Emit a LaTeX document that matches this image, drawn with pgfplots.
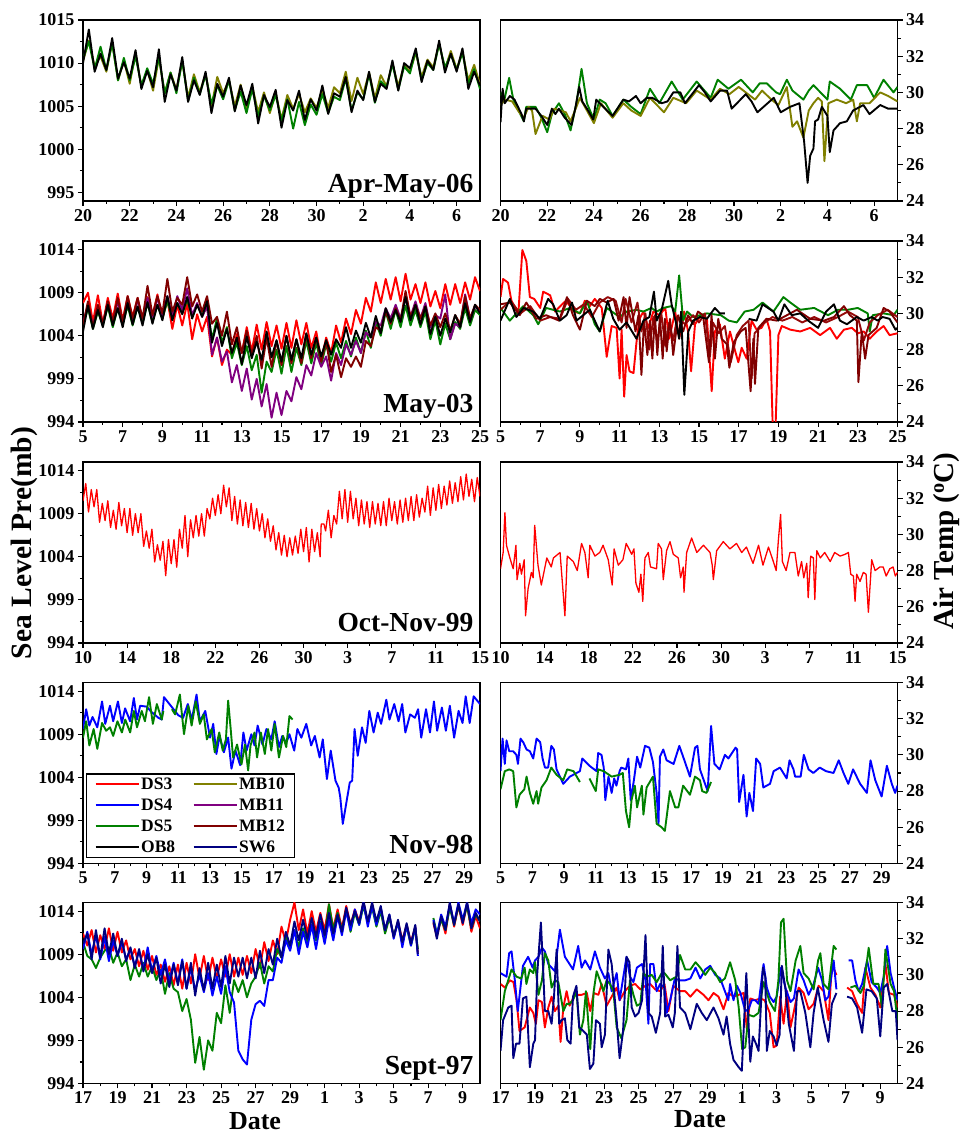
\documentclass[border=0pt]{standalone}
\usepackage{fontspec}
\setmainfont{Liberation Serif}
\usepackage{pgfplots}
\pgfplotsset{compat=1.18}
\usepackage{pgfplotstable}
\definecolor{cDSthree}{RGB}{255,0,0}
\definecolor{cDSfour}{RGB}{0,0,255}
\definecolor{cDSfive}{RGB}{0,128,0}
\definecolor{cOB}{RGB}{0,0,0}
\definecolor{cMBten}{RGB}{128,128,0}
\definecolor{cMBeleven}{RGB}{128,0,128}
\definecolor{cMBtwelve}{RGB}{128,0,0}
\definecolor{cMBb}{RGB}{150,10,10}
\definecolor{cSW}{RGB}{0,0,128}
\tikzset{lab/.style={anchor=base east, font=\bfseries\fontsize{27.5}{27.5}\selectfont}}
\pgfplotsset{
 panel/.style={scale only axis, width=397pt, height=181pt, tick align=outside, minor tick num=1,
  major tick length=5pt, minor tick length=3pt,
  major tick style={line width=1.1pt, black}, minor tick style={line width=1.1pt, black},
  axis line style={line width=1.2pt},
  ticklabel style={font=\bfseries\fontsize{18}{18}\selectfont},
  xtick pos=left, unbounded coords=jump,
  every axis plot/.append style={line width=1.9pt, line join=round, mark=none},
 },
 leftp/.style={panel, ytick pos=left, ymin=-6, ymax=15, ytick={-6,-1,4,9,14}, yticklabels={994,999,1004,1009,1014}},
 rightp/.style={panel, ytick pos=right, yticklabel pos=right, ymin=24, ymax=34, ytick={24,26,28,30,32,34}, yticklabels={24,26,28,30,32,34}},
}
\begin{document}
\pgfplotstableread{
x K O G
20.00 10.0 10.2 10.5
20.25 13.9 12.6 12.5
20.50 9.0 9.6 9.3
20.75 11.1 10.8 11.9
21.00 9.2 9.0 9.2
21.25 12.9 12.4 12.3
21.50 8.2 8.0 8.0
21.75 10.1 10.3 10.6
22.00 8.2 7.6 8.0
22.25 11.5 11.2 10.8
22.50 7.0 7.3 7.4
22.75 9.1 9.2 9.4
23.00 7.2 6.8 7.6
23.25 11.6 10.6 10.7
23.50 5.5 6.5 6.5
23.75 8.7 8.9 8.9
24.00 6.8 6.9 6.5
24.25 10.7 10.2 10.3
24.50 5.5 6.0 5.6
24.75 8.0 8.7 8.3
25.00 6.3 6.6 6.4
25.25 9.0 8.8 8.6
25.50 4.2 5.0 5.3
25.75 7.6 8.4 7.4
26.00 6.1 6.5 5.8
26.25 8.3 8.0 8.0
26.50 4.4 5.0 4.5
26.75 7.4 7.5 6.7
27.00 5.1 4.6 4.2
27.25 7.6 7.3 7.0
27.50 3.0 4.3 3.8
27.75 6.3 6.6 6.2
28.00 4.9 4.2 4.5
28.25 6.9 6.5 6.3
28.50 2.5 3.5 3.3
28.75 5.7 6.3 5.8
29.00 4.5 4.7 2.4
29.25 6.8 6.4 5.5
29.50 3.4 4.3 2.8
29.75 5.8 5.9 5.2
30.00 4.5 4.8 4.0
30.25 7.4 6.9 6.4
30.50 4.1 4.8 4.2
30.75 6.5 7.2 6.1
31.00 6.1 6.5 5.7
31.25 8.4 9.0 8.2
31.50 4.3 5.6 4.5
31.75 6.8 8.3 6.6
32.00 5.7 6.4 5.8
32.25 9.0 8.9 8.7
32.50 5.5 5.9 5.4
32.75 7.6 8.6 7.9
33.00 7.0 7.3 7.2
33.25 10.3 10.0 9.9
33.50 6.8 7.3 6.9
33.75 10.0 9.8 9.6
34.00 9.4 9.0 8.8
34.25 11.7 11.2 11.5
34.50 7.8 8.4 8.0
34.75 10.3 10.4 10.0
35.00 9.2 9.5 9.2
35.25 12.6 12.3 12.2
35.50 8.9 9.3 9.5
35.75 11.1 11.4 11.0
36.00 9.0 9.3 9.2
36.25 11.7 11.3 11.2
36.50 7.0 8.0 7.6
36.75 9.0 9.8 9.3
37.00 7.4 7.5 7.0
}\tabA
\pgfplotstableread{
x R G K P M
5.00 7.8 5.2 4.5 5.4 5.2
5.25 9.0 7.2 7.5 7.6 8.0
5.50 5.6 4.8 4.8 5.2 5.0
5.75 8.7 6.8 7.0 7.4 7.6
6.00 5.4 5.2 5.0 5.4 5.4
6.25 8.4 7.4 7.6 7.8 8.0
6.50 6.0 5.0 5.2 5.6 5.6
6.75 8.9 7.2 7.2 8.0 8.4
7.00 5.8 5.3 5.0 5.6 5.6
7.25 8.6 7.5 7.8 7.9 8.6
7.50 6.2 5.2 5.3 5.8 6.0
7.75 8.4 7.4 7.4 8.2 8.4
8.00 5.8 5.5 5.2 6.0 6.0
8.25 8.5 7.8 7.9 8.4 9.8
8.50 6.3 5.6 5.4 6.2 6.4
8.75 8.8 7.6 7.6 8.4 8.6
9.00 6.0 6.0 5.8 6.4 6.6
9.25 8.2 8.0 8.6 8.6 10.6
9.50 4.8 6.0 5.8 6.2 6.8
9.75 7.6 7.8 7.8 8.6 8.4
10.00 5.2 6.6 6.5 7.0 7.6
10.25 7.8 8.2 8.5 9.5 10.8
10.50 3.6 6.2 6.0 6.4 7.4
10.75 6.5 7.6 7.6 7.8 8.8
11.00 4.5 6.4 6.2 6.2 6.8
11.25 6.2 7.4 8.0 7.4 8.6
11.50 1.6 3.6 3.2 1.8 5.4
11.75 3.8 6.0 5.5 3.8 6.2
12.00 0.6 3.2 2.8 1.0 4.0
12.25 2.4 5.0 4.8 2.2 6.8
12.50 1.8 1.4 2.0 -1.4 3.0
12.75 4.2 3.2 3.8 0.6 5.0
13.00 2.0 0.6 0.7 -2.4 2.0
13.25 5.0 2.8 3.9 0.2 4.6
13.50 2.2 0.0 1.4 -3.4 1.8
13.75 5.3 1.8 3.3 -1.0 4.0
14.00 2.4 -2.6 1.2 -4.2 0.2
14.25 5.6 1.0 4.5 -1.6 3.8
14.50 2.8 -0.2 1.5 -5.5 0.4
14.75 5.2 2.4 3.5 -2.6 3.4
15.00 2.5 -0.4 1.0 -5.2 0.6
15.25 5.5 2.8 4.0 -2.4 4.0
15.50 2.6 -0.2 1.2 -3.6 0.8
15.75 5.8 2.6 3.6 -0.8 3.6
16.00 3.0 0.6 1.4 -2.2 0.8
16.25 5.5 3.4 4.3 0.6 4.2
16.50 2.6 0.8 1.8 -0.6 1.4
16.75 4.5 3.2 3.8 2.0 3.8
17.00 1.2 0.6 1.6 0.4 1.0
17.25 3.8 3.0 3.5 1.6 3.4
17.50 2.0 1.0 1.8 -1.2 -0.2
17.75 5.2 3.2 3.6 2.0 1.8
18.00 3.2 1.4 2.6 0.6 -0.8
18.25 6.0 3.4 5.0 3.0 1.4
18.50 4.2 1.6 2.6 1.8 0.4
18.75 7.0 3.8 4.6 3.4 1.6
19.00 5.4 2.0 3.2 2.0 0.4
19.25 8.4 4.6 5.5 4.4 3.4
19.50 6.8 2.6 3.8 3.8 2.8
19.75 10.2 5.6 6.3 5.6 5.0
20.00 7.8 4.0 4.3 5.2 4.6
20.25 10.6 6.8 7.2 7.2 6.8
20.50 8.2 4.8 5.6 6.0 5.4
20.75 10.8 7.0 7.0 7.6 7.2
21.00 8.0 5.0 5.6 6.0 5.8
21.25 11.2 7.5 8.5 8.4 9.2
21.50 8.2 5.2 5.8 6.2 6.2
21.75 10.0 7.0 7.6 8.0 7.6
22.00 7.8 5.0 5.3 6.0 6.0
22.25 10.2 6.8 7.4 7.8 7.4
22.50 7.4 3.6 4.2 5.0 5.2
22.75 9.2 5.8 6.2 6.4 6.6
23.00 7.2 3.0 4.0 6.0 5.0
23.25 10.0 5.4 6.0 8.8 6.6
23.50 7.6 3.6 4.4 3.6 4.6
23.75 10.0 5.6 6.4 5.4 6.4
24.00 7.8 4.8 5.0 5.0 5.4
24.25 10.2 7.2 7.8 8.8 8.6
24.50 8.2 5.2 5.6 6.0 6.0
24.75 10.8 7.0 7.6 7.4 7.6
25.00 9.2 6.4 6.6 6.8 7.0
}\tabB
\pgfplotstableread{
x R B G N
17.00 11.4 9.6 10.4 10.2
17.25 10.0 11.6 8.8 11.4
17.50 11.8 9.0 8.4 8.4
17.75 9.2 11.2 7.4 11.8
18.00 11.2 8.4 8.6 8.6
18.25 9.6 11.0 9.4 12.0
18.50 12.0 8.2 9.8 9.0
18.75 9.4 10.6 8.0 11.4
19.00 11.6 8.8 9.2 8.8
19.25 9.2 10.4 7.6 10.8
19.50 10.6 8.4 8.4 8.2
19.75 8.4 9.6 6.0 9.8
20.00 9.6 7.6 7.8 7.4
20.25 7.6 9.4 6.4 9.6
20.50 9.4 7.2 8.0 7.0
20.75 7.2 9.8 6.4 9.0
21.00 8.8 7.0 7.6 6.8
21.25 6.6 8.8 6.0 8.6
21.50 7.8 6.6 7.2 5.6
21.75 5.8 8.4 4.4 7.8
22.00 7.6 5.8 6.8 5.2
22.25 5.4 8.0 5.0 7.8
22.50 7.8 5.6 4.6 5.4
22.75 5.0 8.4 2.4 8.2
23.00 8.0 5.0 3.8 5.0
23.25 5.6 7.4 1.4 8.0
23.50 9.0 4.8 -3.6 4.2
23.75 6.2 6.6 -0.6 7.4
24.00 8.8 4.6 -4.4 4.8
24.25 6.0 6.8 -1.0 8.0
24.50 8.6 4.2 -2.2 5.0
24.75 6.2 6.4 2.2 7.8
25.00 8.4 4.4 1.0 5.2
25.25 6.4 7.6 5.4 8.8
25.50 9.0 4.6 2.2 5.6
25.75 6.4 3.4 6.0 8.6
26.00 8.6 -2.2 4.6 6.4
26.25 6.6 -3.2 6.0 8.6
26.50 8.8 -3.8 4.0 6.2
26.75 6.8 1.4 5.6 8.6
27.00 9.6 3.2 6.4 6.2
27.25 7.4 3.6 8.0 9.4
27.50 10.4 3.0 5.6 6.8
27.75 8.2 6.0 7.6 9.6
28.00 10.6 6.0 7.0 7.8
28.25 9.0 8.6 9.6 10.8
28.50 12.2 8.0 8.6 8.6
28.75 10.4 10.6 11.0 11.6
29.00 13.0 9.4 9.6 10.0
29.25 15.0 11.8 11.8 12.8
29.50 11.8 9.0 9.8 10.6
29.75 14.2 11.6 12.0 13.0
30.00 11.4 9.8 10.2 10.8
30.25 14.0 12.4 12.4 13.2
30.50 11.6 9.6 10.6 11.0
30.75 13.8 12.6 12.8 13.6
31.00 11.8 10.2 10.8 11.2
31.25 14.8 13.0 14.8 13.8
31.50 12.0 10.6 11.8 11.4
31.75 14.2 13.4 13.8 13.6
32.00 12.0 11.2 11.8 11.6
32.25 14.6 14.0 14.2 14.4
32.50 12.4 11.8 11.6 12.4
32.75 14.2 14.2 13.8 14.0
33.00 12.8 12.4 12.4 12.6
33.25 15.0 15.0 14.6 15.2
33.50 12.6 12.2 12.6 12.8
33.75 14.8 14.6 14.4 15.0
34.00 12.6 12.4 12.2 12.8
34.25 14.2 14.4 14.0 14.6
34.50 11.6 11.8 11.4 11.8
34.75 13.4 13.6 13.2 13.6
35.00 11.0 10.8 11.2 11.0
35.25 12.8 12.8 12.6 13.0
35.50 10.6 9.8 10.2 10.4
35.75 12.4 12.4 12.2 12.6
36.00 10.4 10.0 10.0 10.2
36.25 12.2 12.2 12.0 12.4
36.40 9.2 8.8 9.6 9.0
36.80 nan nan nan nan
37.30 12.6 13.0 13.2 12.8
37.50 11.0 11.2 11.4 10.8
37.75 13.2 13.6 13.0 13.4
38.00 11.4 12.2 11.8 11.8
38.25 14.8 14.8 14.4 15.0
38.50 12.2 12.6 12.4 12.4
38.75 14.6 15.0 14.6 14.8
39.00 12.4 13.0 12.8 12.6
39.25 14.8 15.0 14.6 15.0
39.50 11.6 12.6 12.0 12.0
39.75 13.4 14.2 13.6 13.8
40.00 12.0 13.6 12.8 12.8
}\tabE
\begin{tikzpicture}
\useasboundingbox (0,0) rectangle (959pt,1134pt);
% ---------------- Row 1
\begin{axis}[leftp, at={(83pt,933pt)}, anchor=south west, xmin=20, xmax=37,
  ytick={-5,0,5,10,15}, yticklabels={995,1000,1005,1010,1015},
  xtick={20,22,...,36}, xticklabels={20,22,24,26,28,30,2,4,6}]
\addplot[cMBten] table[x=x,y=O] {\tabA};
\addplot[cDSfive] table[x=x,y=G] {\tabA};
\addplot[cOB] table[x=x,y=K] {\tabA};
\node[lab] at (rel axis cs:1,0) [xshift=-3pt, yshift=8pt] {Apr-May-06};
\end{axis}
\begin{axis}[rightp, at={(500.5pt,933pt)}, anchor=south west, xmin=20, xmax=37,
  xtick={20,22,...,36}, xticklabels={20,22,24,26,28,30,2,4,6}]
\addplot[cDSfive] coordinates {(20,30.0)(20.15,29.5)(20.37,30.8)(20.55,29.6)(21.0,28.4)(21.1,29.2)(21.5,29.2)(21.75,28.6)(22.0,27.8)(22.2,28.8)(22.5,29.4)(22.75,28.8)(23.0,27.9)(23.25,29.4)(23.47,31.3)(23.7,29.4)(24.0,28.5)(24.25,29.6)(24.5,29.4)(24.8,28.7)(25.26,29.6)(25.6,29.2)(26.0,28.8)(26.4,30.2)(26.8,29.4)(27.33,30.6)(27.8,29.6)(28.4,30.6)(29.0,29.7)(29.3,30.7)(29.76,30.2)(30.3,30.7)(30.8,30.0)(31.1,30.5)(31.4,30.5)(31.8,30.0)(31.97,29.9)(32.26,30.7)(32.5,30.1)(32.97,29.6)(33.2,30.1)(33.4,30.4)(34.0,29.6)(34.1,30.6)(34.54,30.2)(35.0,29.6)(35.26,30.4)(35.7,30.4)(36.0,29.7)(36.4,30.7)(36.83,30.0)(37,30.3)};
\addplot[cMBten] coordinates {(20,29.3)(20.2,29.6)(20.5,29.5)(20.8,28.9)(21.0,28.6)(21.2,29.2)(21.35,29.0)(21.5,27.7)(21.8,28.7)(22.1,28.5)(22.3,29.1)(22.55,29.0)(22.8,28.9)(23.0,28.4)(23.25,29.2)(23.4,29.7)(23.7,29.0)(24.0,28.3)(24.3,29.4)(24.8,28.6)(25.26,29.4)(25.6,29.0)(26.0,28.7)(26.4,29.7)(27.0,28.9)(27.4,29.7)(27.95,29.4)(28.4,30.1)(29.0,29.6)(29.4,30.2)(29.8,29.9)(30.2,30.3)(30.5,30.0)(30.9,29.6)(31.2,30.1)(31.6,29.6)(31.9,29.3)(32.26,30.3)(32.5,28.1)(32.7,28.4)(32.97,27.5)(33.2,29.0)(33.4,29.4)(33.6,29.7)(33.76,29.5)(33.87,26.2)(34.04,29.4)(34.4,29.6)(34.8,29.4)(35.1,29.6)(35.26,28.4)(35.4,29.4)(35.8,29.4)(36.26,30.0)(36.6,29.8)(37,29.5)};
\addplot[cOB] coordinates {(20,28.35)(20.09,30.2)(20.18,29.4)(20.4,29.8)(20.6,29.6)(20.9,28.8)(21.0,28.4)(21.1,29.1)(21.5,29.1)(21.75,28.7)(22.0,28.2)(22.2,29.1)(22.35,28.8)(22.5,29.1)(22.75,28.6)(23.04,28.2)(23.2,29.1)(23.37,30.3)(23.5,29.5)(23.75,29.0)(23.97,28.5)(24.1,29.6)(24.4,29.2)(24.8,28.7)(25.26,29.6)(25.5,29.5)(25.8,29.8)(26.0,29.4)(26.26,29.7)(26.5,29.7)(26.9,29.4)(27.15,29.5)(27.4,30.0)(27.7,30.0)(27.9,29.4)(28.2,29.9)(28.5,30.4)(28.75,30.0)(29.0,29.5)(29.4,30.1)(29.7,30.1)(29.9,29.1)(30.2,29.5)(30.5,29.9)(30.75,29.5)(31.0,28.9)(31.35,29.3)(31.7,29.7)(32.0,28.9)(32.4,29.2)(32.8,29.4)(33.0,27.3)(33.15,25.0)(33.26,26.5)(33.4,26.9)(33.47,28.4)(33.6,28.5)(33.76,29.2)(34.0,28.7)(34.1,26.7)(34.26,27.9)(34.54,28.3)(34.83,28.4)(35.1,29.0)(35.54,29.3)(35.8,28.8)(36.26,29.3)(36.6,29.1)(37,29.1)};
\end{axis}
% ---------------- Row 2
\begin{axis}[leftp, at={(83pt,712pt)}, anchor=south west, xmin=5, xmax=25,
  xtick={5,7,...,25}, xticklabels={5,7,9,11,13,15,17,19,21,23,25}]
\addplot[cDSthree] table[x=x,y=R] {\tabB};
\addplot[cDSfive] table[x=x,y=G] {\tabB};
\addplot[cMBeleven] table[x=x,y=P] {\tabB};
\addplot[cMBtwelve] table[x=x,y=M] {\tabB};
\addplot[cOB] table[x=x,y=K] {\tabB};
\node[lab] at (rel axis cs:1,0) [xshift=-3pt, yshift=9pt] {May-03};
\end{axis}
\begin{axis}[rightp, at={(500.5pt,712pt)}, anchor=south west, xmin=5, xmax=25,
  xtick={5,7,...,25}, xticklabels={5,7,9,11,13,15,17,19,21,23,25}]
\addplot[cDSthree] coordinates {(5.0,30.9)(5.13,31.9)(5.38,31.7)(5.55,30.7)(5.9,30.0)(6.1,33.5)(6.3,32.9)(6.48,30.9)(6.7,30.8)(7.0,30.3)(7.15,31.2)(7.5,31.0)(7.75,30.1)(8.1,30.5)(8.3,30.7)(8.7,30.1)(9.0,30.0)(9.25,30.7)(9.5,30.4)(9.75,30.8)(10.1,30.3)(10.35,27.6)(10.6,29.3)(10.85,29.2)(11.0,26.4)(11.1,29.1)(11.23,25.4)(11.35,27.7)(11.5,26.8)(11.7,26.7)(11.85,28.4)(12.0,29.7)(12.2,30.1)(12.45,29.2)(12.7,30.1)(13.0,29.9)(13.3,30.3)(13.5,28.6)(13.8,30.1)(14.0,28.6)(14.25,30.1)(14.45,29.0)(14.6,26.8)(14.8,29.4)(15.1,29.9)(15.4,29.7)(15.64,25.7)(15.8,29.0)(16.05,29.4)(16.3,27.5)(16.56,29.0)(16.8,28.0)(16.98,27.3)(17.15,28.1)(17.4,27.5)(17.65,29.6)(17.9,29.1)(18.15,29.2)(18.4,29.7)(18.58,29.0)(18.72,23.5)(18.85,23.5)(19.0,28.8)(19.17,29.3)(19.6,29.1)(20.1,29.0)(20.6,29.2)(21.1,28.8)(21.6,29.2)(21.94,28.6)(22.3,29.1)(22.7,29.2)(23.0,28.9)(23.3,29.0)(23.6,28.6)(23.95,29.0)(24.3,29.3)(24.6,28.8)(25,28.9)};
\addplot[cDSfive] coordinates {(5.0,30.3)(5.47,29.6)(5.8,30.0)(6.15,30.4)(6.65,29.9)(6.9,29.4)(7.3,30.3)(8.0,30.1)(8.5,30.3)(9.0,30.0)(9.35,30.7)(9.75,29.4)(10.0,29.0)(10.35,30.3)(11.0,29.8)(11.35,30.1)(11.85,30.2)(12.2,30.1)(12.6,30.3)(12.87,30.1)(13.2,30.3)(13.6,30.4)(13.8,30.1)(14.0,32.1)(14.2,29.6)(14.4,30.1)(14.7,29.8)(15.4,30.0)(16.1,29.9)(16.5,29.6)(16.9,29.5)(17.3,30.1)(17.75,30.2)(18.2,30.6)(18.75,30.1)(19.25,30.9)(19.6,30.6)(20.1,30.2)(20.8,30.3)(21.5,29.9)(22.0,30.2)(22.5,30.2)(23.0,30.3)(23.5,30.0)(23.6,29.0)(23.75,29.9)(24.3,30.0)(24.8,29.9)(25,30.2)};
\addplot[cMBb] coordinates {(5,30.2)(5.5,30.7)(6,30.0)(6.5,30.4)(7,29.6)(7.5,29.8)(8,29.7)(8.4,30.8)(8.8,30.2)(9.2,30.5)(9.6,29.8)(10.0,30.6)(10.4,30.9)(10.8,30.7)(11.1,29.5)(11.3,30.8)(11.6,29.5)(11.9,30.6)(12.1,29.0)(12.3,30.0)(12.5,28.0)(12.7,29.8)(12.9,28.4)(13.1,30.0)(13.3,28.2)(13.5,29.5)(13.7,28.5)(13.9,29.8)(14.3,29.4)(14.7,29.9)(15.0,29.5)(15.3,30.0)(15.55,27.6)(15.7,29.5)(16.0,28.9)(16.3,29.3)(16.6,27.3)(16.9,28.8)(17.2,29.3)(17.5,29.6)(17.65,26.4)(17.8,28.9)(18.2,29.4)(18.7,29.8)(19.2,29.6)(19.7,29.8)(20.2,29.5)(20.8,29.8)(21.4,29.5)(22.0,29.8)(22.5,30.1)(23.0,29.8)(23.3,28.5)(23.6,29.5)(24.0,29.9)(24.5,30.2)(25,29.8)};
\addplot[cMBtwelve] coordinates {(5.0,30.5)(5.47,30.6)(5.97,29.9)(6.3,30.6)(6.8,29.7)(7.3,29.9)(7.95,29.6)(8.35,30.9)(8.65,29.9)(9.0,29.1)(9.35,30.7)(9.75,30.4)(10.0,30.8)(10.35,30.6)(10.7,30.8)(10.95,29.6)(11.2,30.9)(11.35,29.2)(11.5,30.9)(11.8,29.0)(11.95,29.9)(12.1,26.6)(12.23,29.6)(12.4,27.7)(12.53,29.6)(12.65,27.5)(12.78,29.9)(12.9,27.7)(13.03,29.8)(13.17,27.5)(13.28,29.7)(13.37,27.9)(13.54,29.7)(13.7,27.7)(13.95,29.9)(14.2,29.0)(14.45,29.9)(14.7,29.4)(14.95,30.1)(15.2,29.9)(15.5,27.3)(15.63,29.9)(15.8,27.5)(15.97,29.7)(16.14,28.6)(16.4,28.3)(16.53,27.0)(16.75,28.4)(17.1,29.0)(17.35,29.2)(17.6,25.7)(17.74,28.6)(17.82,26.1)(17.99,29.2)(18.4,29.7)(18.92,29.6)(19.43,29.9)(19.93,30.2)(20.6,29.7)(21.3,29.6)(21.8,29.8)(22.3,30.4)(22.6,29.9)(22.95,29.6)(23.03,26.2)(23.2,29.0)(23.37,27.5)(23.54,28.8)(23.95,29.2)(24.3,30.3)(24.6,30.1)(25,29.5)};
\addplot[cOB] coordinates {(5.0,29.6)(5.47,30.8)(5.8,29.8)(6.15,30.3)(6.65,30.1)(6.99,29.7)(7.4,30.8)(7.65,30.5)(7.99,29.6)(8.33,29.9)(8.6,30.6)(8.83,29.6)(9.5,30.2)(10.0,29.0)(10.4,30.7)(10.68,29.7)(11.0,29.1)(11.35,29.5)(11.85,28.6)(12.2,29.6)(12.5,29.8)(12.73,31.2)(12.87,29.6)(13.12,30.2)(13.45,31.8)(13.62,30.5)(13.9,29.2)(14.0,28.6)(14.1,30.1)(14.26,25.5)(14.46,29.0)(14.7,29.6)(15.05,29.8)(15.4,29.7)(15.8,30.3)(16.05,30.0)(16.3,30.0)(16.9,nan)(17.5,29.7)(17.9,29.6)(18.2,30.5)(18.75,30.1)(19.0,29.6)(19.3,30.5)(19.67,29.9)(20.1,30.0)(20.5,29.6)(21.0,29.2)(21.4,30.1)(21.8,30.5)(22.1,29.6)(22.45,29.4)(22.95,29.8)(23.3,29.6)(23.7,29.8)(24.0,29.6)(24.25,29.8)(24.6,29.7)(24.9,29.1)(25,29.2)};
\end{axis}
% ---------------- Row 3
\begin{axis}[leftp, at={(83pt,491pt)}, anchor=south west, xmin=10, xmax=46,
  xtick={10,14,...,46}, xticklabels={10,14,18,22,26,30,3,7,11,15}]
\addplot[cDSthree, line width=1.3pt] coordinates {(10.00,10.5)(10.25,12.5)(10.50,9.2)(10.75,11.8)(11.00,9.8)(11.25,11.8)(11.50,8.0)(11.75,10.2)(12.00,8.2)(12.25,10.5)(12.50,7.4)(12.75,9.4)(13.00,7.2)(13.25,10.3)(13.50,7.6)(13.75,9.6)(14.00,6.8)(14.25,9.6)(14.50,6.5)(14.75,9.0)(15.00,6.8)(15.25,9.0)(15.50,5.2)(15.75,7.0)(16.00,5.0)(16.25,7.2)(16.50,3.4)(16.75,5.4)(17.00,3.6)(17.25,5.8)(17.50,1.8)(17.75,6.0)(18.00,3.2)(18.25,6.0)(18.50,2.8)(18.75,7.2)(19.00,5.0)(19.25,8.8)(19.50,4.0)(19.75,8.3)(20.00,6.2)(20.25,8.8)(20.50,6.4)(20.75,9.0)(21.00,6.4)(21.25,9.6)(21.50,8.4)(21.75,10.8)(22.00,8.8)(22.25,11.2)(22.50,9.0)(22.75,12.3)(23.00,9.8)(23.25,12.0)(23.50,8.2)(23.75,11.0)(24.00,7.8)(24.25,10.6)(24.50,7.6)(24.75,10.3)(25.00,7.4)(25.25,10.2)(25.50,7.2)(25.75,9.6)(26.00,7.0)(26.25,9.0)(26.50,6.2)(26.75,8.4)(27.00,5.8)(27.25,7.6)(27.50,4.8)(27.75,6.8)(28.00,4.2)(28.25,6.5)(28.50,4.0)(28.75,6.2)(29.00,4.2)(29.25,6.4)(29.50,4.4)(29.75,7.2)(30.00,4.6)(30.25,7.4)(30.50,3.4)(30.75,7.2)(31.00,4.6)(31.25,6.8)(31.50,4.0)(31.60,7.8)(31.85,7.8)(32.00,7.0)(32.25,9.4)(32.50,6.2)(32.75,8.8)(33.00,7.8)(33.25,11.6)(33.50,8.4)(33.75,11.8)(34.00,8.0)(34.25,11.6)(34.50,8.4)(34.75,10.8)(35.00,7.6)(35.25,10.6)(35.50,7.8)(35.75,10.4)(36.00,7.4)(36.25,10.4)(36.50,7.8)(36.75,10.2)(37.00,7.6)(37.25,10.4)(37.50,7.6)(37.75,10.8)(38.00,8.2)(38.25,10.4)(38.50,7.8)(38.75,10.6)(39.00,8.0)(39.25,10.8)(39.50,8.2)(39.75,11.0)(40.00,8.2)(40.25,11.2)(40.50,8.6)(40.75,10.8)(41.00,9.2)(41.25,12.2)(41.50,8.8)(41.75,12.0)(42.00,9.4)(42.25,12.4)(42.50,9.6)(42.75,12.2)(43.00,10.0)(43.25,12.8)(43.50,10.2)(43.75,12.6)(44.00,10.4)(44.25,13.3)(44.50,10.6)(44.75,13.6)(45.00,11.0)(45.25,13.0)(45.50,10.4)(45.75,13.2)(46.00,11.0)};
\node[lab] at (rel axis cs:1,0) [xshift=-3pt, yshift=11pt] {Oct-Nov-99};
\end{axis}
\begin{axis}[rightp, at={(500.5pt,491pt)}, anchor=south west, xmin=10, xmax=46,
  xtick={10,14,...,46}, xticklabels={10,14,18,22,26,30,3,7,11,15}]
\addplot[cDSthree, line width=1.3pt] coordinates {(10.0,28.1)(10.24,29.0)(10.4,31.2)(10.54,29.4)(10.85,28.7)(11.15,28.1)(11.4,29.4)(11.5,27.5)(11.75,28.4)(11.9,27.8)(12.15,28.6)(12.27,25.5)(12.5,27.0)(12.8,27.9)(12.96,27.6)(13.1,30.5)(13.4,28.3)(13.7,27.2)(14.2,28.7)(14.6,28.2)(14.8,28.7)(15.4,29.0)(15.84,25.5)(16.05,28.8)(16.6,28.5)(16.96,28.0)(17.35,29.5)(17.65,29.0)(17.95,27.6)(18.1,29.4)(18.56,28.8)(19.0,29.0)(19.3,29.4)(19.77,28.6)(20.13,27.2)(20.3,29.2)(20.68,28.3)(21.1,28.6)(21.4,29.5)(21.9,28.9)(22.1,29.2)(22.28,27.3)(22.55,26.8)(22.73,27.8)(22.9,26.3)(23.1,28.7)(23.4,29.0)(23.6,28.2)(24.15,28.1)(24.3,29.5)(24.6,29.2)(24.76,27.5)(25.06,29.1)(25.37,29.6)(25.67,28.9)(26.12,28.7)(26.33,27.6)(26.57,28.2)(26.64,26.8)(26.88,29.0)(27.33,29.8)(27.8,29.0)(28.4,29.4)(29.0,29.0)(29.2,28.3)(29.3,27.5)(29.6,29.1)(30.2,29.6)(30.8,29.2)(31.4,29.5)(31.87,29.0)(32.3,29.3)(32.9,28.4)(33.4,29.4)(33.8,28.3)(34.3,29.3)(34.74,28.5)(35.0,28.0)(35.2,29.7)(35.4,31.1)(35.56,28.5)(35.9,28.0)(36.25,29.0)(36.7,29.0)(37.0,27.7)(37.3,28.5)(37.5,27.6)(37.77,28.4)(37.9,26.5)(38.13,28.8)(38.37,28.7)(38.5,26.4)(38.68,29.1)(39.0,28.7)(39.4,29.0)(39.9,28.5)(40.3,29.0)(40.8,28.8)(41.25,28.9)(41.55,29.0)(41.76,27.8)(42.0,27.7)(42.15,26.3)(42.3,27.8)(42.6,27.4)(42.9,27.9)(43.15,27.8)(43.36,25.7)(43.66,28.6)(43.97,28.0)(44.4,28.2)(44.7,28.2)(44.97,27.7)(45.3,28.1)(45.6,28.2)(45.8,27.7)(46.0,27.9)};
\end{axis}
% ---------------- Row 4
\begin{axis}[leftp, at={(83pt,270.5pt)}, anchor=south west, xmin=5, xmax=30,
  xtick={5,7,...,29}, xticklabels={5,7,9,11,13,15,17,19,21,23,25,27,29},
  legend columns=2, legend cell align=left,
  legend image code/.code={\draw[#1, line width=1.9pt] (0pt,0pt) -- (43pt,0pt);},
  legend style={at={(0.008,0.03)}, anchor=south west, draw=black, line width=1.2pt,
    font=\bfseries\fontsize{17.5}{17.5}\selectfont, row sep=6.5pt, inner xsep=8pt, inner ysep=3pt,
    nodes={inner sep=1.5pt, text height=11.5pt, text depth=0pt},
    /tikz/every even column/.append style={column sep=16pt}}]
\addlegendimage{cDSthree}\addlegendentry{DS3}
\addlegendimage{cMBten}\addlegendentry{MB10}
\addlegendimage{cDSfour}\addlegendentry{DS4}
\addlegendimage{cMBeleven}\addlegendentry{MB11}
\addlegendimage{cDSfive}\addlegendentry{DS5}
\addlegendimage{cMBtwelve}\addlegendentry{MB12}
\addlegendimage{cOB}\addlegendentry{OB8}
\addlegendimage{cSW}\addlegendentry{SW6}
\addplot[cDSfour, forget plot] coordinates {(5.0,9.6)(5.2,11.9)(5.4,10.0)(5.6,11.0)(5.9,9.8)(6.2,12.8)(6.4,10.2)(6.7,12.3)(6.9,10.5)(7.2,12.8)(7.45,10.3)(7.65,12.0)(7.97,10.5)(8.2,13.2)(8.4,10.7)(8.6,12.3)(9.0,12.2)(9.3,11.6)(9.75,10.9)(9.96,10.7)(10.1,13.3)(10.7,11.9)(11.0,11.2)(11.3,10.9)(11.6,12.5)(11.85,10.7)(12.15,13.6)(12.36,10.5)(12.7,11.7)(13.0,8.6)(13.2,10.2)(13.4,6.7)(13.6,8.8)(13.87,6.9)(14.14,8.6)(14.35,5.0)(14.6,7.1)(14.9,5.4)(15.1,9.2)(15.3,7.1)(15.6,9.0)(15.8,7.7)(16.0,10.0)(16.3,7.8)(16.55,9.6)(16.86,8.4)(17.07,10.5)(17.34,7.5)(17.55,8.8)(17.8,8.0)(18.0,9.0)(18.3,7.1)(18.5,9.6)(18.75,8.6)(19.06,10.2)(19.37,7.7)(19.6,8.8)(19.9,6.3)(20.1,8.4)(20.36,3.8)(20.6,7.1)(20.9,3.6)(21.1,2.8)(21.2,1.7)(21.36,-1.4)(21.57,0.9)(21.8,3.4)(21.95,3.6)(22.1,9.6)(22.3,6.5)(22.57,9.8)(22.8,8.0)(23.03,11.7)(23.3,9.2)(23.56,11.5)(23.77,10.2)(24.1,13.0)(24.3,10.7)(24.6,12.5)(24.87,10.5)(25.1,12.5)(25.3,9.2)(25.6,11.3)(25.9,10.9)(26.1,11.9)(26.3,8.6)(26.6,11.9)(26.85,9.2)(27.1,12.8)(27.3,9.4)(27.6,12.1)(27.85,9.4)(28.1,12.3)(28.37,8.6)(28.65,11.7)(28.9,10.3)(29.1,13.4)(29.35,10.3)(29.6,13.4)(30.0,12.5)};
\addplot[cDSfive, forget plot] coordinates {(5.0,8.6)(5.2,10.5)(5.4,7.7)(5.67,9.6)(5.9,7.3)(6.2,10.3)(6.46,9.4)(6.7,9.8)(6.9,8.8)(7.17,10.5)(7.45,9.2)(7.66,10.7)(7.97,9.2)(8.2,11.7)(8.4,9.8)(8.7,11.7)(8.9,10.5)(9.16,13.3)(9.4,10.2)(9.65,12.5)(9.96,10.7)(10.06,11.7)(10.3,nan)(10.6,11.9)(10.8,11.3)(11.1,13.6)(11.36,9.0)(11.63,12.3)(11.84,10.0)(12.1,12.8)(12.36,10.2)(12.6,11.3)(12.8,8.4)(13.1,9.6)(13.3,6.9)(13.58,9.2)(13.8,7.1)(14.0,8.4)(14.14,12.9)(14.3,9.6)(14.45,6.3)(14.7,7.8)(14.98,5.5)(15.2,7.8)(15.4,4.8)(15.55,7.7)(15.8,9.2)(15.96,6.3)(16.2,9.2)(16.45,6.7)(16.65,9.6)(16.86,7.1)(17.07,10.2)(17.34,6.3)(17.6,8.8)(17.8,7.5)(18.0,11.1)(18.2,10.7)};
\node[lab] at (rel axis cs:1,0) [xshift=-3pt, yshift=10pt] {Nov-98};
\end{axis}
\begin{axis}[rightp, at={(500.5pt,270.5pt)}, anchor=south west, xmin=5, xmax=30,
  xtick={5,7,...,29}, xticklabels={5,7,9,11,13,15,17,19,21,23,25,27,29}]
\addplot[cDSfour] coordinates {(5.0,29.1)(5.13,30.9)(5.27,29.5)(5.38,30.8)(5.55,30.2)(5.8,30.2)(6.0,30.0)(6.1,29.5)(6.26,30.9)(6.43,30.7)(6.64,30.3)(6.85,30.2)(7.06,29.8)(7.27,30.9)(7.5,30.7)(7.65,29.8)(7.8,29.3)(8.0,29.3)(8.2,30.5)(8.36,30.3)(8.53,29.2)(8.95,28.4)(9.37,28.8)(10.0,29.1)(10.15,29.8)(10.6,29.4)(11.05,29.1)(11.15,30.1)(11.36,30.0)(11.5,29.3)(11.6,27.5)(11.8,28.8)(12.0,27.9)(12.16,28.7)(12.3,28.3)(12.5,29.1)(12.6,29.3)(12.9,29.2)(13.05,29.8)(13.2,27.5)(13.4,28.6)(13.6,29.9)(13.8,29.3)(14.1,30.5)(14.37,30.4)(14.6,29.6)(14.83,27.9)(14.95,26.2)(15.04,29.9)(15.25,30.3)(15.46,29.7)(15.9,29.5)(16.26,30.5)(16.5,29.9)(16.93,28.8)(17.25,30.4)(17.4,30.5)(17.56,29.2)(17.88,28.4)(18.05,28.0)(18.26,31.6)(18.47,29.5)(18.8,29.2)(19.13,30.0)(19.35,29.8)(19.8,30.4)(19.9,30.3)(20.03,27.4)(20.3,28.9)(20.5,26.6)(20.67,27.9)(20.9,26.9)(21.1,29.8)(21.35,29.5)(21.55,28.2)(21.97,28.4)(22.2,29.1)(22.6,29.3)(23.02,28.7)(23.2,29.7)(23.45,29.2)(23.55,28.8)(23.9,28.8)(24.1,30.0)(24.4,29.2)(24.7,29.0)(25.1,29.3)(25.5,29.1)(25.97,29.0)(26.3,29.7)(26.6,29.0)(26.9,28.4)(27.2,29.2)(27.65,28.4)(28.07,27.9)(28.3,29.7)(28.6,28.6)(29.0,27.7)(29.33,29.4)(29.64,28.4)(29.85,27.9)(30,28.3)};
\addplot[cDSfive] coordinates {(5.0,28.1)(5.27,29.1)(5.55,29.2)(5.8,29.1)(6.0,27.1)(6.2,27.8)(6.5,28.1)(6.64,28.8)(6.85,27.9)(7.06,27.3)(7.27,28.0)(7.37,27.3)(7.58,28.2)(7.9,28.6)(8.2,29.3)(8.53,28.9)(8.95,28.6)(9.2,29.2)(9.6,29.1)(10.0,28.5)(10.3,nan)(10.6,28.7)(11.0,28.0)(11.15,29.2)(11.5,29.1)(12.0,28.8)(12.5,28.9)(12.7,29.0)(12.9,26.9)(13.1,26.0)(13.25,27.5)(13.46,28.3)(13.6,27.1)(13.9,28.3)(14.0,26.7)(14.2,28.2)(14.6,28.8)(14.83,26.2)(15.15,26.0)(15.35,25.8)(15.67,28.0)(16.0,27.1)(16.2,27.1)(16.5,28.3)(16.93,27.8)(17.25,28.8)(17.56,28.6)(17.7,28.0)(17.97,27.9)(18.26,28.5)};
\end{axis}
% ---------------- Row 5
\begin{axis}[leftp, at={(83pt,50.5pt)}, anchor=south west, xmin=17, xmax=40,
  xtick={17,19,...,39}, xticklabels={17,19,21,23,25,27,29,1,3,5,7,9}]
\addplot[cDSthree] table[x=x,y=R] {\tabE};
\addplot[cDSfive] table[x=x,y=G] {\tabE};
\addplot[cDSfour] table[x=x,y=B] {\tabE};
\addplot[cSW] table[x=x,y=N] {\tabE};
\node[lab] at (rel axis cs:1,0) [xshift=-3pt, yshift=9pt] {Sept-97};
\end{axis}
\begin{axis}[rightp, at={(500.5pt,50.5pt)}, anchor=south west, xmin=17, xmax=40,
  xtick={17,19,...,39}, xticklabels={17,19,21,23,25,27,29,1,3,5,7,9}]
\addplot[cDSthree] coordinates {(17.0,29.5)(17.25,29.3)(17.54,29.7)(17.75,29.6)(17.93,28.6)(18.1,26.9)(18.4,27.1)(18.7,28.2)(18.9,27.9)(19.05,27.3)(19.2,28.6)(19.4,28.5)(19.57,27.1)(19.77,28.2)(19.96,28.8)(20.15,28.0)(20.35,28.3)(20.48,26.3)(20.64,28.2)(20.83,29.1)(21.0,28.3)(21.3,28.9)(21.7,28.9)(22.0,29.0)(22.2,28.0)(22.4,29.0)(22.67,28.9)(22.86,29.5)(23.15,28.3)(23.44,28.8)(23.73,29.3)(23.9,28.6)(24.2,29.1)(24.5,29.4)(24.8,29.5)(25.1,29.2)(25.4,29.4)(25.67,29.5)(25.96,29.2)(26.25,29.1)(26.5,29.5)(26.73,28.0)(27.0,29.4)(27.4,29.1)(27.7,29.1)(28.0,28.8)(28.37,29.2)(28.76,28.9)(29.05,28.6)(29.34,29.0)(29.63,28.8)(29.92,28.1)(30.2,29.0)(30.5,28.8)(30.8,28.9)(31.08,29.0)(31.27,27.0)(31.47,28.7)(31.76,28.6)(32.05,28.7)(32.3,28.6)(32.6,27.9)(32.82,26.0)(33.0,26.1)(33.2,28.8)(33.4,27.3)(33.6,29.1)(33.8,27.1)(34.0,28.0)(34.27,29.3)(34.56,29.0)(34.85,28.1)(35.14,28.4)(35.43,29.4)(35.72,29.1)(36.0,27.5)(36.2,30.6)(36.46,30.0)(36.8,nan)(37.08,29.3)(37.37,29.1)(37.66,28.4)(37.95,27.9)(38.14,30.4)(38.43,29.3)(38.72,28.9)(39.0,28.2)(39.3,30.6)(39.5,29.0)(39.8,28.9)(40.0,28.2)};
\addplot[cDSfour] coordinates {(17.0,30.1)(17.35,29.9)(17.5,31.2)(17.64,31.3)(17.83,29.7)(18.0,28.0)(18.3,30.5)(18.6,31.0)(18.86,30.4)(19.0,30.8)(19.2,31.0)(19.4,31.5)(19.57,31.3)(19.77,30.6)(19.96,30.4)(20.15,30.2)(20.3,31.4)(20.44,32.5)(20.73,31.0)(21.0,30.6)(21.2,30.3)(21.5,31.6)(21.7,30.4)(21.9,30.8)(22.2,30.3)(22.47,31.3)(22.76,30.4)(23.05,29.8)(23.25,30.1)(23.44,29.1)(23.73,30.1)(23.9,28.6)(24.1,29.8)(24.3,31.0)(24.5,29.9)(24.7,29.6)(24.9,30.4)(25.2,30.6)(25.4,29.7)(25.57,27.3)(25.67,30.6)(25.86,30.6)(26.05,29.1)(26.25,29.5)(26.5,29.3)(26.63,27.9)(26.83,28.6)(27.1,29.8)(27.4,29.7)(27.7,29.7)(28.0,29.8)(28.3,30.4)(28.57,29.8)(28.86,30.3)(29.15,30.5)(29.44,30.0)(29.73,29.8)(30.0,29.1)(30.2,28.6)(30.3,29.5)(30.5,28.6)(30.7,29.4)(30.9,29.0)(31.18,28.0)(31.37,28.1)(31.56,28.6)(31.76,28.6)(31.95,28.4)(32.24,30.6)(32.43,29.3)(32.6,28.8)(32.82,28.5)(33.0,28.8)(33.25,30.4)(33.5,29.3)(33.8,28.5)(34.0,28.7)(34.27,30.3)(34.56,29.7)(34.85,28.9)(35.14,29.5)(35.4,30.4)(35.63,29.7)(35.82,28.6)(36.0,28.8)(36.3,30.8)(36.46,29.2)(36.8,nan)(37.17,30.8)(37.37,30.8)(37.56,29.7)(37.75,29.1)(37.95,29.5)(38.24,30.8)(38.5,29.6)(38.8,29.3)(39.0,29.0)(39.2,29.9)(39.4,31.6)(39.6,30.1)(39.8,29.3)(40.0,28.6)};
\addplot[cDSfive] coordinates {(17.0,27.5)(17.25,29.1)(17.64,30.3)(17.93,29.9)(18.2,29.8)(18.4,30.4)(18.5,29.5)(18.7,30.3)(18.9,30.1)(19.0,30.7)(19.2,28.9)(19.4,29.7)(19.57,31.2)(19.77,30.8)(19.96,29.3)(20.15,29.7)(20.35,29.6)(20.64,28.0)(20.83,28.4)(21.0,28.4)(21.2,28.6)(21.4,29.1)(21.6,26.7)(21.8,27.5)(21.95,29.1)(22.2,25.9)(22.4,29.1)(22.57,30.2)(22.76,29.7)(22.96,29.1)(23.15,29.7)(23.34,29.5)(23.54,29.1)(23.73,27.1)(24.0,26.5)(24.3,27.5)(24.5,29.7)(24.7,28.9)(24.9,28.3)(25.1,28.4)(25.28,30.1)(25.47,29.9)(25.76,30.0)(26.05,29.6)(26.34,30.1)(26.5,30.1)(26.83,29.7)(27.0,29.8)(27.2,29.9)(27.4,31.1)(27.7,30.3)(28.0,30.3)(28.3,30.7)(28.57,30.4)(28.86,30.0)(29.15,30.4)(29.44,30.1)(29.73,29.6)(30.0,29.8)(30.3,30.7)(30.6,29.7)(30.8,28.2)(31.0,25.9)(31.18,26.0)(31.37,27.8)(31.66,27.7)(31.95,27.9)(32.24,29.6)(32.43,29.0)(32.6,28.5)(32.9,28.0)(33.1,29.7)(33.25,32.9)(33.4,33.1)(33.6,29.7)(33.8,29.1)(34.1,30.8)(34.37,31.6)(34.56,30.1)(34.85,29.8)(35.14,29.2)(35.4,30.8)(35.53,31.2)(35.72,29.5)(36.0,29.2)(36.3,31.6)(36.46,31.4)(36.8,nan)(37.27,29.3)(37.56,29.4)(37.85,29.0)(38.05,29.4)(38.33,31.5)(38.6,29.5)(38.9,29.5)(39.1,28.2)(39.3,31.4)(39.6,29.5)(39.8,29.1)(40.0,27.5)};
\addplot[cSW] coordinates {(17.0,25.8)(17.15,27.5)(17.45,28.2)(17.64,28.3)(17.74,25.4)(17.9,26.2)(18.1,26.2)(18.3,28.7)(18.5,28.8)(18.7,24.9)(18.9,26.2)(19.0,26.4)(19.13,30.1)(19.34,32.9)(19.48,30.1)(19.57,28.0)(19.77,28.0)(19.96,27.3)(20.1,28.8)(20.25,31.4)(20.4,27.3)(20.54,27.5)(20.73,27.6)(20.87,26.4)(21.06,26.2)(21.2,28.8)(21.4,29.4)(21.56,27.1)(21.8,26.9)(22.0,26.7)(22.18,24.8)(22.38,25.1)(22.53,27.5)(22.76,27.3)(22.86,26.0)(23.05,26.7)(23.25,31.4)(23.44,30.6)(23.73,27.5)(23.9,25.4)(24.1,26.9)(24.3,31.0)(24.47,30.7)(24.6,28.2)(24.8,27.7)(25.0,27.9)(25.2,28.6)(25.4,32.2)(25.57,27.9)(25.76,27.7)(26.0,26.8)(26.25,27.9)(26.4,31.6)(26.54,27.7)(26.73,27.8)(26.98,27.1)(27.1,27.9)(27.25,31.6)(27.4,28.2)(27.7,27.9)(28.0,27.0)(28.37,28.4)(28.66,27.9)(28.95,27.5)(29.34,28.2)(29.63,27.6)(29.92,26.7)(30.1,27.7)(30.3,26.2)(30.5,25.3)(30.8,24.9)(30.98,24.7)(31.24,30.1)(31.47,25.2)(31.62,26.6)(31.8,26.2)(31.95,25.8)(32.2,30.4)(32.34,29.9)(32.43,25.8)(32.6,26.9)(32.82,26.6)(33.0,26.1)(33.17,26.7)(33.3,30.5)(33.5,29.3)(33.7,27.3)(34.0,25.8)(34.18,29.1)(34.37,29.1)(34.66,27.9)(34.95,26.0)(35.14,27.9)(35.38,29.3)(35.72,27.5)(36.0,26.3)(36.2,28.4)(36.46,29.0)(36.8,nan)(37.08,28.8)(37.37,28.7)(37.66,28.2)(37.95,26.8)(38.2,29.2)(38.5,29.1)(38.8,28.7)(39.0,26.6)(39.2,29.3)(39.4,29.5)(39.7,28.0)(39.9,28.0)(40.0,26.4)};
\end{axis}
% ---------------- labels
\node[rotate=90, anchor=base, font=\bfseries\fontsize{29.5}{29.5}\selectfont] at (32pt,591pt) {Sea Level Pre(mb)};
\node[rotate=90, anchor=base, font=\bfseries\fontsize{29}{29}\selectfont] at (953pt,593pt) {Air Temp (\textsuperscript{o}C)};
\node[anchor=base, font=\bfseries\fontsize{26}{26}\selectfont] at (255pt,5pt) {Date};
\node[anchor=base, font=\bfseries\fontsize{26}{26}\selectfont] at (700pt,6pt) {Date};
\end{tikzpicture}
\end{document}
